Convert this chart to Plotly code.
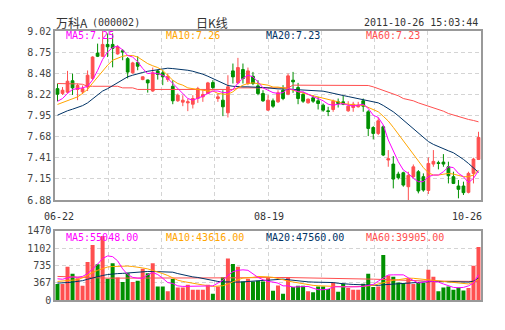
import plotly.graph_objects as go

# ---------------- data ----------------
dates_lbl = ["06-22", "08-19", "10-26"]
dates_idx = [0, 42, 84]

opens = [8.29, 8.23, 8.245, 8.39, 8.28, 8.25, 8.31, 8.42, 8.74, 8.70,
         8.85, 8.85, 8.73, 8.77, 8.67, 8.49, 8.62, 8.405, 8.40, 8.26,
         8.515, 8.49, 8.405, 8.32, 8.136, 8.119, 8.11, 8.093, 8.165, 8.186,
         8.228, 8.367, 8.165, 8.144, 7.984, 8.515, 8.363, 8.532, 8.355, 8.447,
         8.325, 8.228, 8.018, 8.136, 8.123, 8.27, 8.22, 8.397, 8.304, 8.216,
         8.11, 8.174, 8.136, 8.081, 8.009, 8.026, 8.123, 8.123, 8.009, 8.051,
         8.06, 8.136, 7.997, 7.798, 7.723, 7.807, 7.386, 7.335, 7.208, 7.225,
         7.048, 7.175, 7.238, 7.175, 7.00, 7.335, 7.352, 7.36, 7.301, 7.175,
         7.057, 7.057, 6.977, 7.217, 7.394]
highs = [8.355, 8.31, 8.515, 8.48, 8.355, 8.33, 8.52, 8.70, 8.86, 9.02,
         8.99, 8.99, 8.84, 8.79, 8.69, 8.63, 8.70, 8.447, 8.405, 8.557,
         8.53, 8.523, 8.48, 8.397, 8.228, 8.207, 8.165, 8.207, 8.313, 8.27,
         8.376, 8.397, 8.228, 8.27, 8.46, 8.608, 8.68, 8.608, 8.557, 8.502,
         8.397, 8.27, 8.207, 8.165, 8.27, 8.334, 8.481, 8.502, 8.363, 8.249,
         8.165, 8.207, 8.186, 8.102, 8.06, 8.152, 8.165, 8.20, 8.131, 8.123,
         8.123, 8.165, 8.018, 7.815, 7.925, 7.828, 7.512, 7.436, 7.238, 7.238,
         7.238, 7.33, 7.259, 7.217, 7.419, 7.512, 7.377, 7.461, 7.365, 7.238,
         7.133, 7.112, 7.238, 7.415, 7.744]
lows = [8.13, 8.21, 8.228, 8.21, 8.144, 8.22, 8.26, 8.40, 8.69, 8.69,
        8.69, 8.56, 8.72, 8.65, 8.42, 8.48, 8.523, 8.397, 8.24, 8.25,
        8.405, 8.334, 8.376, 8.093, 8.123, 8.068, 8.005, 8.039, 8.11, 8.123,
        8.22, 8.279, 8.123, 7.942, 7.925, 8.355, 8.346, 8.355, 8.334, 8.334,
        8.207, 8.123, 8.009, 8.047, 8.11, 8.144, 8.207, 8.237, 8.093, 8.11,
        8.102, 8.11, 8.026, 7.997, 7.942, 7.997, 8.051, 8.081, 7.997, 7.997,
        8.051, 7.997, 7.689, 7.647, 7.702, 7.436, 7.301, 7.027, 7.14, 7.048,
        6.88, 7.16, 6.964, 6.985, 6.956, 7.301, 7.268, 7.301, 7.09, 7.082,
        6.901, 6.943, 6.964, 7.09, 7.386]
closes = [8.22, 8.27, 8.384, 8.30, 8.33, 8.29, 8.46, 8.69, 8.70, 8.85,
          8.82, 8.80, 8.82, 8.755, 8.50, 8.616, 8.574, 8.44, 8.363, 8.49,
          8.47, 8.44, 8.447, 8.136, 8.207, 8.144, 8.123, 8.165, 8.29, 8.216,
          8.363, 8.304, 8.186, 8.06, 8.313, 8.439, 8.557, 8.418, 8.515, 8.355,
          8.228, 8.136, 8.144, 8.068, 8.237, 8.165, 8.452, 8.376, 8.165, 8.131,
          8.157, 8.131, 8.102, 8.018, 8.001, 8.131, 8.102, 8.093, 8.068, 8.093,
          8.081, 8.068, 7.786, 7.723, 7.883, 7.449, 7.402, 7.145, 7.162, 7.069,
          7.192, 7.30, 6.994, 7.006, 7.343, 7.369, 7.343, 7.335, 7.187, 7.09,
          7.015, 6.973, 7.217, 7.398, 7.672]

ma5 = [8.13, 8.165, 8.23, 8.28, 8.29, 8.30, 8.32, 8.40, 8.52, 8.66,
       8.755, 8.81, 8.83, 8.78, 8.71, 8.69, 8.63, 8.545, 8.48, 8.49,
       8.48, 8.46, 8.42, 8.355, 8.29, 8.23, 8.165, 8.144, 8.165, 8.194,
       8.23, 8.26, 8.26, 8.24, 8.24, 8.28, 8.36, 8.42, 8.46, 8.44,
       8.376, 8.30, 8.27, 8.24, 8.23, 8.24, 8.29, 8.28, 8.25, 8.25,
       8.22, 8.186, 8.165, 8.136, 8.093, 8.08, 8.093, 8.10, 8.08, 8.07,
       8.08, 8.093, 8.04, 7.954, 7.925, 7.83, 7.64, 7.51, 7.365, 7.26,
       7.217, 7.154, 7.112, 7.112, 7.175, 7.196, 7.196, 7.238, 7.30, 7.29,
       7.217, 7.175, 7.10, 7.154, 7.25]
ma10 = [8.09, 8.115, 8.136, 8.165, 8.186, 8.23, 8.28, 8.36, 8.44, 8.515,
        8.587, 8.65, 8.68, 8.70, 8.71, 8.71, 8.69, 8.65, 8.607, 8.58,
        8.557, 8.52, 8.46, 8.397, 8.355, 8.334, 8.30, 8.29, 8.28, 8.27,
        8.26, 8.26, 8.23, 8.22, 8.22, 8.25, 8.30, 8.334, 8.355, 8.363,
        8.355, 8.346, 8.334, 8.31, 8.31, 8.30, 8.29, 8.27, 8.25, 8.23,
        8.216, 8.20, 8.186, 8.165, 8.152, 8.136, 8.123, 8.10, 8.093, 8.08,
        8.08, 8.08, 8.05, 8.026, 7.997, 7.94, 7.88, 7.80, 7.714, 7.63,
        7.546, 7.46, 7.377, 7.29, 7.225, 7.196, 7.196, 7.208, 7.217, 7.208,
        7.196, 7.175, 7.175, 7.196, 7.26]
ma20 = [7.954, 7.985, 8.01, 8.03, 8.05, 8.075, 8.11, 8.16, 8.22, 8.26,
        8.29, 8.33, 8.37, 8.41, 8.44, 8.46, 8.48, 8.495, 8.51, 8.52,
        8.532, 8.545, 8.549, 8.544, 8.54, 8.532, 8.523, 8.51, 8.494, 8.473,
        8.447, 8.418, 8.388, 8.355, 8.33, 8.32, 8.313, 8.313, 8.313, 8.313,
        8.308, 8.304, 8.30, 8.29, 8.287, 8.287, 8.283, 8.283, 8.279, 8.275,
        8.27, 8.266, 8.262, 8.258, 8.245, 8.228, 8.216, 8.203, 8.19, 8.178,
        8.165, 8.152, 8.14, 8.127, 8.11, 8.077, 8.039, 7.997, 7.946, 7.891,
        7.828, 7.777, 7.723, 7.672, 7.62, 7.584, 7.554, 7.529, 7.503, 7.478,
        7.44, 7.394, 7.343, 7.29, 7.23]
ma60 = [8.355, 8.355, 8.352, 8.35, 8.35, 8.345, 8.32, 8.32, 8.32, 8.32,
        8.32, 8.32, 8.32, 8.30, 8.30, 8.30, 8.28, 8.28, 8.28, 8.28,
        8.28, 8.28, 8.28, 8.28, 8.28, 8.28, 8.28, 8.28, 8.28, 8.28,
        8.28, 8.28, 8.28, 8.28, 8.28, 8.28, 8.30, 8.30, 8.30, 8.30,
        8.30, 8.30, 8.30, 8.30, 8.30, 8.30, 8.30, 8.334, 8.334, 8.334,
        8.334, 8.334, 8.334, 8.334, 8.334, 8.334, 8.334, 8.334, 8.334, 8.334,
        8.334, 8.334, 8.33, 8.313, 8.29, 8.26, 8.24, 8.22, 8.20, 8.165,
        8.152, 8.136, 8.11, 8.089, 8.068, 8.047, 8.03, 8.005, 7.975, 7.954,
        7.933, 7.912, 7.90, 7.887, 7.87]

volume = [337, 337, 703, 555, 464, 302, 808, 1167, 759, 1357,
          450, 780, 478, 380, 569, 380, 408, 661, 569, 780,
          288, 288, 183, 443, 267, 267, 323, 218, 218, 218,
          323, 134, 288, 485, 879, 766, 703, 394, 450, 394,
          408, 394, 478, 197, 309, 134, 485, 274, 302, 302,
          183, 162, 288, 288, 232, 373, 176, 344, 253, 218,
          218, 344, 555, 274, 288, 956, 520, 492, 373, 359,
          464, 337, 359, 359, 640, 492, 183, 267, 288, 218,
          267, 204, 253, 724, 1125]
vma5 = [450, 440, 470, 490, 480, 500, 560, 650, 760, 880,
        935, 920, 830, 660, 540, 480, 464, 464, 534, 583,
        540, 460, 370, 350, 300, 288, 288, 288, 288, 288,
        288, 300, 358, 420, 520, 600, 630, 640, 630, 560,
        480, 430, 394, 380, 358, 300, 300, 274, 274, 288,
        288, 250, 218, 218, 230, 280, 280, 270, 270, 265,
        280, 290, 310, 330, 400, 470, 530, 534, 534, 534,
        470, 420, 360, 380, 400, 394, 380, 340, 300, 267,
        260, 267, 300, 360, 534]
vma10 = [394, 400, 410, 420, 430, 470, 530, 580, 630, 670,
         700, 710, 718, 724, 720, 710, 700, 680, 660, 630,
         600, 560, 520, 470, 420, 394, 370, 350, 337, 320,
         300, 288, 295, 302, 340, 394, 430, 464, 470, 480,
         500, 500, 490, 480, 460, 430, 400, 380, 360, 337,
         323, 310, 302, 295, 288, 290, 285, 282, 280, 280,
         285, 290, 300, 310, 340, 370, 400, 420, 430, 450,
         464, 460, 450, 440, 430, 420, 410, 400, 380, 370,
         360, 345, 340, 380, 443]
vma20 = [358, 360, 370, 380, 390, 410, 440, 470, 500, 520,
         540, 555, 560, 565, 575, 580, 590, 600, 605, 605,
         605, 600, 590, 590, 560, 534, 510, 490, 478, 455,
         430, 415, 394, 385, 380, 380, 380, 385, 395, 408,
         408, 415, 420, 428, 436, 443, 430, 415, 400, 394,
         385, 380, 380, 380, 380, 370, 355, 340, 337, 330,
         323, 320, 315, 310, 310, 323, 330, 340, 345, 350,
         360, 370, 380, 390, 394, 394, 394, 394, 394, 390,
         385, 380, 380, 400, 464]
vma60 = [500, 495, 490, 485, 480, 475, 470, 468, 466, 464,
         464, 464, 464, 464, 464, 464, 464, 464, 462, 460,
         458, 456, 455, 462, 462, 462, 462, 462, 462, 462,
         462, 462, 462, 465, 468, 470, 472, 474, 475, 476,
         477, 478, 478, 478, 478, 477, 476, 475, 474, 473,
         472, 470, 468, 465, 462, 458, 456, 454, 452, 450,
         448, 446, 444, 442, 440, 436, 432, 428, 424, 420,
         416, 412, 408, 405, 402, 400, 398, 396, 395, 394,
         394, 394, 394, 394, 394]

price_ticks = ["6.88", "7.15", "7.41", "7.68", "7.95", "8.22", "8.48", "8.75", "9.02"]
vol_ticks = ["0", "367", "735", "1102", "1470"]
price_labels = ["MA5:7.25", "MA10:7.26", "MA20:7.23", "MA60:7.23"]
vol_labels = ["MA5:55048.00", "MA10:43616.00", "MA20:47560.00", "MA60:39905.00"]

# ---------------- styling ----------------
RED = "#ff4f4f"
GREEN = "#009000"
MA_COLORS = ["#ff00ff", "#ffa500", "#003366", "#ff4f4f"]
GRID = "#d4d4d4"
FRAME = "#999999"
MONO = "DejaVu Sans Mono"
CJK = "Noto Sans CJK SC"

W, H = 505, 330
L, R, T, B = 55, 24, 31, 30
PH = H - T - B  # plot height in px


def py(pix):  # pixel row -> paper y
    return (H - B - pix) / PH


def px(pix):  # pixel column -> paper x
    return (pix - L) / (W - L - R)


n = len(closes)
idx = list(range(n))
pmin, pmax = float(price_ticks[0]), float(price_ticks[-1])
vmax = float(vol_ticks[-1])

fig = go.Figure()
fig.add_trace(go.Candlestick(
    x=idx, open=opens, high=highs, low=lows, close=closes,
    increasing=dict(line=dict(color=RED, width=1), fillcolor=RED),
    decreasing=dict(line=dict(color=GREEN, width=1), fillcolor=GREEN),
    whiskerwidth=0, showlegend=False, hoverinfo="skip",
    xaxis="x", yaxis="y"))
for arr, c in zip([ma60, ma20, ma10, ma5], MA_COLORS[::-1]):
    fig.add_trace(go.Scatter(x=idx, y=arr, mode="lines", line=dict(color=c, width=1),
                             showlegend=False, hoverinfo="skip", xaxis="x", yaxis="y"))

vcolors = [RED if c >= o else GREEN for o, c in zip(opens, closes)]
fig.add_trace(go.Bar(x=idx, y=volume, marker=dict(color=vcolors, line=dict(width=0)),
                     width=0.8, showlegend=False, hoverinfo="skip", xaxis="x2", yaxis="y2"))
for arr, c in zip([vma60, vma20, vma10, vma5], MA_COLORS[::-1]):
    fig.add_trace(go.Scatter(x=idx, y=arr, mode="lines", line=dict(color=c, width=1),
                             showlegend=False, hoverinfo="skip", xaxis="x2", yaxis="y2"))

xgrid = [-0.5 + k * n / 8 for k in range(1, 8)]
xcommon = dict(range=[-0.5, n - 0.5], tickvals=xgrid, showticklabels=False,
               showgrid=True, gridcolor=GRID, griddash="4px,3px", gridwidth=1,
               showline=True, mirror=True, linecolor=FRAME, linewidth=1.5,
               zeroline=False, ticks="", fixedrange=True)
tickfont = dict(family=MONO, size=10, color="#444")

fig.update_layout(
    width=W, height=H, margin=dict(l=L, r=R, t=T, b=B, pad=0),
    paper_bgcolor="white", plot_bgcolor="white", boxgap=0.22,
    xaxis=dict(**xcommon, anchor="y", rangeslider=dict(visible=False)),
    xaxis2=dict(**xcommon, anchor="y2", matches="x"),
    yaxis=dict(domain=[py(200), 1], range=[pmin, pmax],
               tickvals=[pmin + k * (pmax - pmin) / 8 for k in range(9)], ticktext=price_ticks,
               showgrid=True, gridcolor=GRID, griddash="4px,3px", zeroline=False,
               showline=True, mirror=True, linecolor=FRAME, linewidth=1.5,
               ticks="", tickfont=tickfont, anchor="x"),
    yaxis2=dict(domain=[0, py(230.7)], range=[0, vmax],
                tickvals=[k * vmax / 4 for k in range(5)], ticktext=vol_ticks,
                showgrid=True, gridcolor=GRID, griddash="4px,3px", zeroline=False,
                showline=True, mirror=True, linecolor=FRAME, linewidth=1.5,
                ticks="", tickfont=tickfont, anchor="x2"),
    showlegend=False,
)

ann = []
# titles
ann.append(dict(text="万科A", x=px(54), y=py(22), xref="paper", yref="paper",
                xanchor="left", yanchor="middle", showarrow=False,
                font=dict(family=CJK, size=12, color="#333")))
ann.append(dict(text="(000002)", x=px(90), y=py(22), xref="paper", yref="paper",
                xanchor="left", yanchor="middle", showarrow=False,
                font=dict(family=MONO, size=10, color="#333")))
ann.append(dict(text="日K线", x=px(212), y=py(22), xref="paper", yref="paper",
                xanchor="center", yanchor="middle", showarrow=False,
                font=dict(family=CJK, size=12, color="#333")))
ann.append(dict(text="2011-10-26 15:03:44", x=px(480), y=py(22), xref="paper", yref="paper",
                xanchor="right", yanchor="middle", showarrow=False,
                font=dict(family=MONO, size=10, color="#333")))
# MA labels
for k, (t1, t2, c) in enumerate(zip(price_labels, vol_labels, MA_COLORS)):
    ann.append(dict(text=t1, x=px(64 + 100 * k), y=py(36), xref="paper", yref="paper",
                    xanchor="left", yanchor="middle", showarrow=False,
                    font=dict(family=MONO, size=10, color=c)))
    ann.append(dict(text=t2, x=px(64 + 100 * k), y=py(237), xref="paper", yref="paper",
                    xanchor="left", yanchor="middle", showarrow=False,
                    font=dict(family=MONO, size=10, color=c)))
# date labels
for lbl, i in zip(dates_lbl, dates_idx):
    anchor = "right" if i == n - 1 else "center"
    xv = i + 0.5 if i == n - 1 else i
    ann.append(dict(text=lbl, x=xv, y=py(216), xref="x", yref="paper",
                    xanchor=anchor, yanchor="middle", showarrow=False, xshift=3 if i == n - 1 else 1,
                    font=dict(family=MONO, size=10, color="#333")))
fig.update_layout(annotations=ann)

fig.write_html("out.html")
